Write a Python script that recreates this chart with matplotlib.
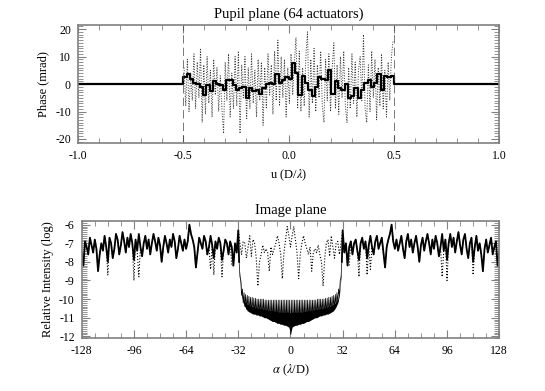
import numpy as np
from matplotlib import pyplot as plt
from matplotlib.ticker import MultipleLocator

plt.rcParams['font.family'] = ['Liberation Serif', 'DejaVu Serif']
plt.rcParams['mathtext.fontset'] = 'stix'
plt.rcParams['axes.unicode_minus'] = False

# pupil plane: 64 actuator phases (mrad), u from -0.5 to 0.5
act_phase = [2.5, 3.5, 2.0, 0.5, 0.0, -1.0, -4.0, -0.5,
             -2.5, 1.0, 0.0, -0.5, -2.0, 1.5, 1.5, -0.5,
             -2.0, -1.5, -1.0, -5.0, -1.5, -2.5, -2.0, -3.5,
             -1.5, 0.0, 0.5, 0.0, 3.5, 0.5, 1.5, 2.5,
             2.0, 7.5, 4.0, -4.0, 3.0, 0.5, -2.0, -4.5,
             -1.0, 2.5, 2.0, 1.5, 5.0, -3.5, 1.0, -1.5,
             -2.0, 0.0, -5.0, -4.5, -1.5, -5.0, -2.0, 0.5,
             1.5, -1.0, 0.5, 3.5, -2.0, 3.0, 2.5, 3.0]

# high-resolution phase (128 samples over the pupil)
fine_phase = [6, -8, 9, -10, 4, -6, 11, -9,
              8, -5, 13, -14, 7, -11, 10, -7,
              5, -12, 9, -4, 6, -10, 3, -9,
              -18, 8, -6, 11, -12, 4, -9, 10,
              -8, 12, -18, 7, -5, 10, -13, 6,
              -9, 11, -7, 5, -12, 9, -6, 8,
              -15, 6, -9, 11, -4, 7, -11, 12,
              -6, 16, -8, 10, -5, 9, -12, 6,
              -7, 11, -4, 8, 17, -9, 12, -10,
              6, -8, 10, 19, -12, 9, -7, 13,
              -10, 7, -5, 12, -8, -14, 9, -6,
              11, -10, 6, 15, -9, 7, -11, 10,
              -5, 12, -8, -14, 6, -9, 11, -7,
              8, -12, 5, 10, -6, 18, -9, -14,
              7, -10, 12, -5, 9, -13, 6, -8,
              11, -9, 5, -12, 8, -6, 10, 16]

# image plane, alpha = 0..31 (dark hole), symmetric in alpha
hole_top = [-10.05] * 16 + [-10.0] * 5 + [-9.95, -9.95, -9.9, -9.9, -9.85,
                                          -9.8, -9.75, -9.65, -9.45, -9.0, -8.0]
hole_mid = [-10.75, -10.7, -10.7, -10.7, -10.7, -10.7, -10.7, -10.7, -10.65, -10.65,
            -10.65, -10.6, -10.6, -10.6, -10.6, -10.55, -10.55, -10.55, -10.5,
            -10.5, -10.5, -10.45, -10.45, -10.4, -10.4, -10.35, -10.3, -10.25,
            -10.15, -10.0, -9.6, -8.5]
hole_bot = [-11.9, -11.5, -11.45, -11.4, -11.4, -11.35, -11.35, -11.3, -11.3, -11.25,
            -11.2, -11.2, -11.15, -11.1, -11.05, -11.0, -11.0, -10.95, -10.9, -10.9,
            -10.85, -10.85, -10.8, -10.8, -10.75, -10.7, -10.65, -10.55, -10.4, -10.2,
            -9.8, -8.8]
dot_hole = [-7.2, -6.6, -6.1, -6.8, -7.5, -8.9, -7.6, -7.0, -6.6, -7.0,
            -7.3, -7.6, -7.2, -8.5, -7.5, -7.3, -7.5, -7.1, -7.6, -8.0,
            -9.3, -7.8, -7.0, -6.8, -7.7, -6.6, -7.2, -7.8, -7.0, -6.9,
            -7.6, -7.0]

# alpha = 32..128
solid_outer = [-6.3, -7.5, -7.0, -8.2, -7.2, -6.9, -7.6, -7.0, -6.8, -7.4,
               -7.9, -7.0, -6.7, -7.3, -6.9, -7.8, -7.1, -6.6, -7.2, -7.6,
               -6.9, -6.6, -7.3, -7.0, -6.7, -7.5, -8.3, -7.2, -6.8, -6.5,
               -6.0, -6.9, -7.3, -6.8, -7.4, -7.0, -6.6, -7.3, -7.8, -6.9,
               -6.5, -7.2, -6.8, -7.5, -7.0, -6.6, -7.2, -8.0, -7.1, -6.7,
               -7.4, -6.9, -6.5, -7.0, -7.6, -6.8, -7.3, -6.6, -7.0, -7.7,
               -7.2, -6.5, -7.4, -6.8, -7.9, -7.0, -6.5, -7.2, -6.7, -7.5,
               -6.9, -6.4, -7.1, -7.6, -6.8, -6.5, -7.3, -7.8, -7.0, -6.7,
               -8.0, -7.2, -6.6, -7.4, -7.0, -7.6, -8.5, -7.3, -6.8, -7.5,
               -7.1, -6.7, -7.6, -7.2, -6.9, -8.2, -7.5]
# deeper dips of the dotted curve outside the dark hole
dip_alpha = [36, 42, 47, 49, 93, 96, 112]
dip_val = [-8.2, -8.8, -8.7, -8.4, -8.8, -9.0, -8.7]


def mirror(x, y):
    x = np.asarray(x, float)
    y = np.asarray(y, float)
    return np.concatenate([-x[:0:-1], x]), np.concatenate([y[:0:-1], y])


def style(ax):
    for s in ax.spines.values():
        s.set_linewidth(1.2)
        s.set_color('#808080')
    ax.tick_params(which='both', direction='in', top=True, right=True,
                   color='#808080', labelsize=8.5, pad=5)
    ax.tick_params(which='major', length=6, width=0.8)
    ax.tick_params(which='minor', length=3.5, width=0.6)


if __name__ == "__main__":
    fig = plt.figure(figsize=(5.45, 3.91), dpi=100)

    # ---- pupil plane
    ax1 = fig.add_axes([0.143, 0.634, 0.773, 0.302])
    edges = np.linspace(-0.5, 0.5, len(act_phase) + 1)
    xs = np.concatenate([[-1.0], edges, [1.0]])
    ys = np.concatenate([[0.0], act_phase, [0.0, 0.0]])
    n = len(fine_phase)
    u_fine = -0.5 + (np.arange(n) + 0.5) / n
    ax1.plot(u_fine, fine_phase, ':', color='#333333', lw=0.7)
    ax1.step(xs, ys, where='post', color='k', lw=1.6)
    for e in (-0.5, 0.5):
        ax1.axvline(e, color='#444444', lw=0.5, ls=(0, (12, 6)))
    ax1.set_xlim(-1, 1)
    ax1.set_ylim(-21.5, 21.5)
    ax1.xaxis.set_major_locator(MultipleLocator(0.5))
    ax1.xaxis.set_minor_locator(MultipleLocator(0.1))
    ax1.yaxis.set_major_locator(MultipleLocator(10))
    ax1.yaxis.set_minor_locator(MultipleLocator(1))
    ax1.set_xticks([-1, -0.5, 0, 0.5, 1])
    ax1.set_xticklabels(['-1.0', '-0.5', '0.0', '0.5', '1.0'])
    style(ax1)
    ax1.set_title('Pupil plane (64 actuators)', fontsize=10.5, pad=5)
    ax1.set_xlabel('u (D/$\\lambda$)', fontsize=9)
    ax1.set_ylabel('Phase (mrad)', fontsize=9)

    # ---- image plane
    ax2 = fig.add_axes([0.150, 0.135, 0.766, 0.300])
    k = np.arange(len(hole_top))
    a_out = np.arange(32, 32 + len(solid_outer))

    # dark hole: sample oscillating between lower and upper envelope
    zx = np.ravel(np.column_stack([k, k + 0.5]))
    zy = np.ravel(np.column_stack([hole_bot, hole_top]))
    hx, hy = mirror(zx, zy)

    dotted_outer = np.array(solid_outer, float)
    for a, v in zip(dip_alpha, dip_val):
        dotted_outer[a - 32] = v
    dx, dy = mirror(np.concatenate([k, a_out]), np.concatenate([dot_hole, dotted_outer]))

    fx, fmid = mirror(k, hole_mid)
    _, fbot = mirror(k, hole_bot)

    ax2.plot(dx, dy, ':', color='k', lw=0.8)
    ax2.fill_between(fx, fbot, fmid, color='k', lw=0)
    ax2.plot(hx, hy, color='k', lw=0.5)
    ox = np.concatenate([[zx[-1]], a_out])
    oy = np.concatenate([[zy[-1]], solid_outer])
    ax2.plot(ox, oy, color='k', lw=1.3)
    ax2.plot(-ox, oy, color='k', lw=1.3)
    ax2.set_xlim(-128, 128)
    ax2.set_ylim(-12.1, -5.8)
    ax2.xaxis.set_major_locator(MultipleLocator(32))
    ax2.xaxis.set_minor_locator(MultipleLocator(8))
    ax2.yaxis.set_major_locator(MultipleLocator(1))
    ax2.yaxis.set_minor_locator(MultipleLocator(0.1))
    style(ax2)
    ax2.set_title('Image plane', fontsize=10.5, pad=5)
    ax2.set_xlabel('$\\alpha$ ($\\lambda$/D)', fontsize=9)
    ax2.set_ylabel('Relative Intensity (log)', fontsize=9)

    fig.savefig('out.png', dpi=100)
